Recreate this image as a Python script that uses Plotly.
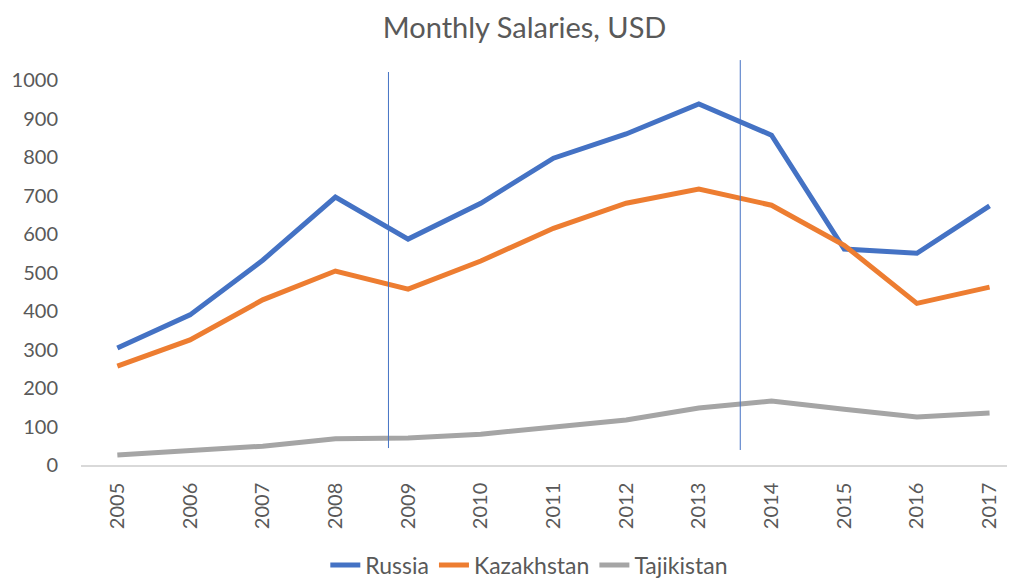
import plotly.graph_objects as go

years = ["2005", "2006", "2007", "2008", "2009", "2010", "2011", "2012", "2013", "2014", "2015", "2016", "2017"]
russia = [304, 390, 532, 696, 587, 680, 797, 860, 938, 857, 561, 550, 673]
kazakhstan = [257, 325, 429, 504, 457, 530, 615, 680, 717, 675, 571, 420, 462]
tajikistan = [26, 36, 49, 68, 70, 80, 98, 117, 148, 166, 145, 125, 135]

series_names = ["Russia", "Kazakhstan", "Tajikistan"]
series_colors = ["#4472C4", "#ED7D31", "#A5A5A5"]

# crisis marker lines: (x position in category units, y bottom, y top)
marker_x = [3.73, 8.57]
marker_y0 = [44, 39]
marker_y1 = [1021, 1052]

y_ticks = [0, 100, 200, 300, 400, 500, 600, 700, 800, 900, 1000]

fig = go.Figure()
for name, vals, col in zip(series_names, [russia, kazakhstan, tajikistan], series_colors):
    fig.add_trace(go.Scatter(
        x=list(range(len(years))), y=vals, mode="lines", name=name,
        line=dict(color=col, width=5),
    ))

for xm, y0, y1 in zip(marker_x, marker_y0, marker_y1):
    fig.add_shape(type="line", xref="x", yref="y", x0=xm, x1=xm, y0=y0, y1=y1,
                  line=dict(color="#4472C4", width=1))

font_family = "Lato, 'Open Sans', sans-serif"
fig.update_layout(
    width=1007, height=574,
    margin=dict(l=73, r=0, t=49, b=117, autoexpand=False),
    paper_bgcolor="white", plot_bgcolor="white",
    font=dict(family=font_family, color="#595959", size=20),
    title=dict(text="Monthly Salaries, USD", x=0.513, xanchor="center",
               yref="container", y=0.966, yanchor="middle",
               font=dict(size=29, color="#595959")),
    showlegend=True,
    legend=dict(orientation="h", x=0.48, xanchor="center", y=-0.245, yanchor="middle",
                font=dict(size=23, color="#595959"), tracegroupgap=0),
    xaxis=dict(
        range=[-0.5, 12.35], tickmode="array", tickvals=list(range(len(years))),
        ticktext=years, tickangle=-90, showgrid=False, zeroline=False,
        showline=True, linecolor="#D9D9D9", linewidth=1.5, ticks="",
        tickfont=dict(size=20, color="#595959"), ticklabelstandoff=8,
        automargin=False,
    ),
    yaxis=dict(
        range=[0, 1060], tickmode="array", tickvals=y_ticks,
        showgrid=False, zeroline=False, showline=False, ticks="",
        tickfont=dict(size=20, color="#595959"), ticklabelstandoff=22,
        automargin=False,
    ),
)

fig.write_html("out.html")
